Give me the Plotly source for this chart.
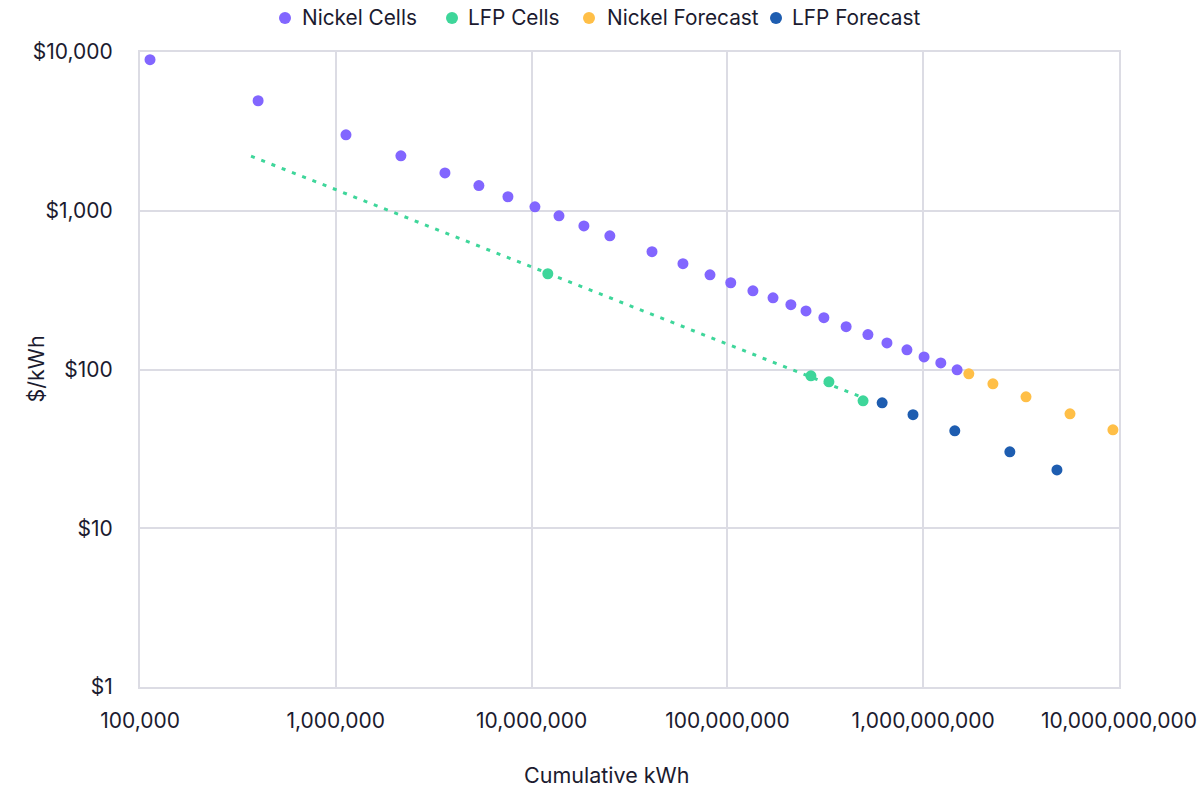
import numpy as np
import plotly.graph_objects as go

# ---- data ----
nickel_x = [1.125e5, 4.01e5, 1.127e6, 2.15e6, 3.61e6, 5.38e6, 7.57e6, 1.04e7, 1.38e7,
            1.85e7, 2.51e7, 4.12e7, 5.93e7, 8.15e7, 1.04e8, 1.35e8, 1.71e8, 2.11e8,
            2.52e8, 3.11e8, 4.04e8, 5.22e8, 6.53e8, 8.26e8, 1.01e9, 1.23e9, 1.49e9]
nickel_y = [8940, 4930, 3010, 2220, 1730, 1440, 1225, 1059, 929,
            803, 695, 552, 464, 395, 352, 313, 283, 256,
            234, 212, 186, 166, 147, 133, 120, 110, 99.5]

lfp_x = [1.21e7, 2.67e8, 3.30e8, 4.93e8]
lfp_y = [401, 91.2, 83.6, 63.5]

nickel_fc_x = [1.71e9, 2.27e9, 3.35e9, 5.62e9, 9.31e9]
nickel_fc_y = [94, 81.3, 67.3, 52.6, 41.7]

lfp_fc_x = [6.17e8, 8.87e8, 1.45e9, 2.77e9, 4.82e9]
lfp_fc_y = [61.7, 51.9, 41.1, 30.3, 23.3]

trend_x_start = 3.69e5  # power-law trendline of LFP cells, extended backwards

series_names = ["Nickel Cells", "LFP Cells", "Nickel Forecast", "LFP Forecast"]

x_tickvals = [1e5, 1e6, 1e7, 1e8, 1e9, 1e10]
x_ticktext = ["100,000", "1,000,000", "10,000,000", "100,000,000",
              "1,000,000,000", "10,000,000,000"]
y_tickvals = [1, 10, 100, 1000, 10000]
y_ticktext = ["$1", "$10", "$100", "$1,000", "$10,000"]

# ---- styling ----
C_NICKEL = "#8266FF"
C_LFP = "#3ED69A"
C_NICKEL_FC = "#FFBF47"
C_LFP_FC = "#1E5DB0"
TXT = "#1b1b2f"
GRID = "#dcdce4"
FONT = "Inter"
FS_TICK = 21
FS_LEG = 20.8
FS_TITLE = 21.5

# full-page figure (body margin removed in post_script)
W, H = 1203, 788
ML, MT, MR, MB = 140, 52, 84, 101
PW, PH = W - ML - MR, H - MT - MB

# legend layout (pixels): symbol centres and text starts
LEG_Y = 18
LEG_SYM_X = [285, 452, 589, 776]
LEG_TXT_X = [300, 466, 605, 790]


def px_to_paper_x(px):
    return (px - ML) / PW


def px_to_paper_y(py):
    return 1 - (py - MT) / PH


# power-law fit of LFP cells
b, a = np.polyfit(np.log10(lfp_x), np.log10(lfp_y), 1)
tx = np.array([trend_x_start, max(lfp_x)])
ty = 10 ** (a + b * np.log10(tx))

fig = go.Figure()
fig.add_trace(go.Scatter(x=tx, y=ty, mode="lines", showlegend=False, hoverinfo="skip",
                         line=dict(color=C_LFP, width=3, dash="4px,7px")))
marker_size = 11
colors = [C_NICKEL, C_LFP, C_NICKEL_FC, C_LFP_FC]
datasets = [(nickel_x, nickel_y), (lfp_x, lfp_y), (nickel_fc_x, nickel_fc_y), (lfp_fc_x, lfp_fc_y)]
for name, (xs, ys), col in zip(series_names, datasets, colors):
    fig.add_trace(go.Scatter(x=xs, y=ys, mode="markers", name=name, showlegend=False,
                             marker=dict(color=col, size=marker_size, line=dict(width=0))))

# legend drawn as symbols + labels so spacing matches the reference
ly = px_to_paper_y(LEG_Y)
for name, col, sx, tx0 in zip(series_names, colors, LEG_SYM_X, LEG_TXT_X):
    fig.add_shape(type="circle", xref="paper", yref="paper",
                  xsizemode="pixel", ysizemode="pixel",
                  xanchor=px_to_paper_x(sx), yanchor=ly,
                  x0=-6, x1=6, y0=-6, y1=6,
                  fillcolor=col, line=dict(width=0), layer="above")
    fig.add_annotation(text=name, xref="paper", yref="paper",
                       x=px_to_paper_x(tx0), y=ly, xanchor="left", yanchor="middle",
                       showarrow=False, font=dict(size=FS_LEG, color=TXT))

fig.update_layout(
    width=W, height=H,
    margin=dict(l=ML, r=MR, t=MT, b=MB, autoexpand=False),
    paper_bgcolor="white", plot_bgcolor="white",
    font=dict(family=FONT, size=FS_TICK, color=TXT),
    showlegend=False,
)
fig.update_xaxes(type="log", range=[5, 10], tickvals=x_tickvals, ticktext=x_ticktext,
                 showgrid=True, gridcolor=GRID, gridwidth=1.5, automargin=False,
                 showline=True, linecolor=GRID, linewidth=2, mirror=True,
                 ticks="", ticklabelstandoff=14, zeroline=False,
                 tickfont=dict(size=FS_TICK, color=TXT))
fig.update_yaxes(type="log", range=[0, 4], tickvals=y_tickvals, ticktext=y_ticktext,
                 showgrid=True, gridcolor=GRID, gridwidth=1.5, automargin=False,
                 showline=True, linecolor=GRID, linewidth=2, mirror=True,
                 ticks="", ticklabelstandoff=21, zeroline=False,
                 tickfont=dict(size=FS_TICK, color=TXT))

fig.add_annotation(text="Cumulative kWh", xref="paper", yref="paper",
                   x=px_to_paper_x(606), y=px_to_paper_y(775), showarrow=False,
                   xanchor="center", yanchor="middle", font=dict(size=FS_TITLE, color=TXT))
fig.add_annotation(text="$/kWh", xref="paper", yref="paper",
                   x=px_to_paper_x(35), y=0.5, showarrow=False, textangle=-90,
                   xanchor="center", yanchor="middle", font=dict(size=FS_TITLE, color=TXT))

fig.write_html("out.html",
               config={"displayModeBar": False},
               post_script="document.body.style.margin='0';document.body.style.overflow='hidden';")
